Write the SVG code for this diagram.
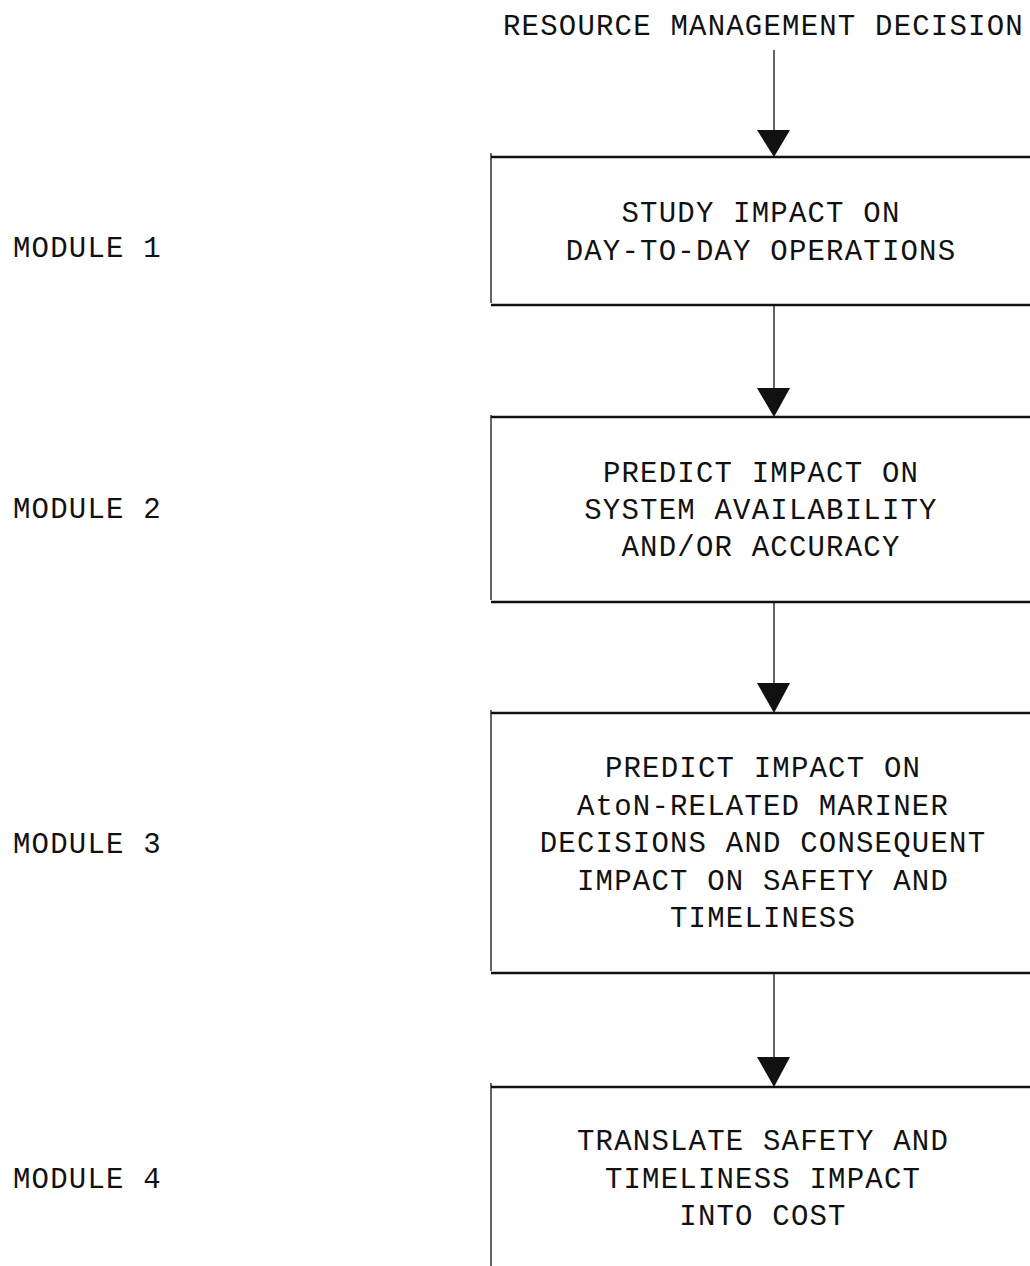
<svg xmlns="http://www.w3.org/2000/svg" width="1030" height="1266" viewBox="0 0 1030 1266">
<defs>
<style>
text{font-family:"Liberation Mono","Courier New",monospace;font-size:29px;letter-spacing:1.2px;fill:#111}
.c{text-anchor:middle}
.h{stroke:#111;stroke-width:2.4;fill:none}
.v{stroke:#111;stroke-width:1.3;fill:none}
.ah{fill:#111}
</style>
</defs>
<rect width="1030" height="1266" fill="#fff"/>
<g id="title"><text x="503" y="35">RESOURCE MANAGEMENT DECISION</text></g>
<g id="labels">
<text x="13" y="257">MODULE 1</text>
<text x="13" y="518">MODULE 2</text>
<text x="13" y="853">MODULE 3</text>
<text x="13" y="1188">MODULE 4</text>
</g>
<g id="module1">
<line class="h" x1="491" y1="157" x2="1030" y2="157"/>
<line class="h" x1="491" y1="305" x2="1030" y2="305"/>
<line class="v" x1="491" y1="153" x2="491" y2="303"/>
<text class="c" x="761" y="222">STUDY IMPACT ON</text>
<text class="c" x="761" y="260">DAY-TO-DAY OPERATIONS</text>
</g>
<g id="module2">
<line class="h" x1="491" y1="417" x2="1030" y2="417"/>
<line class="h" x1="491" y1="602" x2="1030" y2="602"/>
<line class="v" x1="491" y1="415" x2="491" y2="600"/>
<text class="c" x="761" y="482">PREDICT IMPACT ON</text>
<text class="c" x="761" y="519">SYSTEM AVAILABILITY</text>
<text class="c" x="761" y="556">AND/OR ACCURACY</text>
</g>
<g id="module3">
<line class="h" x1="491" y1="713" x2="1030" y2="713"/>
<line class="h" x1="491" y1="973" x2="1030" y2="973"/>
<line class="v" x1="491" y1="710" x2="491" y2="971"/>
<text class="c" x="763" y="777">PREDICT IMPACT ON</text>
<text class="c" x="763" y="815">AtoN-RELATED MARINER</text>
<text class="c" x="763" y="852">DECISIONS AND CONSEQUENT</text>
<text class="c" x="763" y="890">IMPACT ON SAFETY AND</text>
<text class="c" x="763" y="927">TIMELINESS</text>
</g>
<g id="module4">
<line class="h" x1="491" y1="1087" x2="1030" y2="1087"/>
<line class="v" x1="491" y1="1083" x2="491" y2="1266"/>
<text class="c" x="763" y="1150">TRANSLATE SAFETY AND</text>
<text class="c" x="763" y="1188">TIMELINESS IMPACT</text>
<text class="c" x="763" y="1225">INTO COST</text>
</g>
<g id="connectors">
<line class="v" x1="774" y1="50" x2="774" y2="132"/>
<polygon class="ah" points="757,130 790,130 774,157"/>
<line class="v" x1="774" y1="305" x2="774" y2="390"/>
<polygon class="ah" points="757,388 790,388 774,417"/>
<line class="v" x1="774" y1="602" x2="774" y2="685"/>
<polygon class="ah" points="757,683 790,683 774,713"/>
<line class="v" x1="774" y1="973" x2="774" y2="1059"/>
<polygon class="ah" points="757,1057 790,1057 774,1087"/>
</g>
</svg>
